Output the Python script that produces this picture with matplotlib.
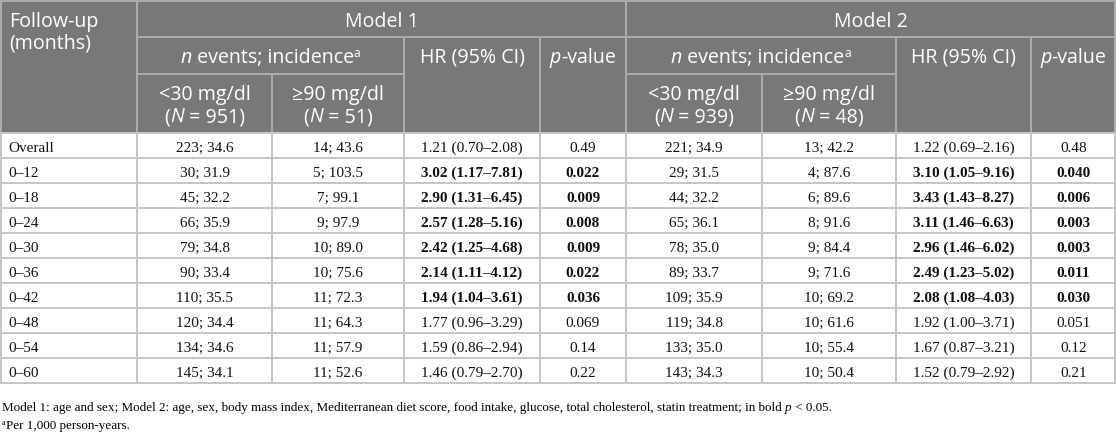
import matplotlib

matplotlib.use("Agg")
import matplotlib.pyplot as plt
from matplotlib.patches import Rectangle

# ---- data -----------------------------------------------------------------
follow_up = ["Overall", "0–12", "0–18", "0–24", "0–30", "0–36", "0–42",
             "0–48", "0–54", "0–60"]

m1_low_n = [223, 30, 45, 66, 79, 90, 110, 120, 134, 145]
m1_low_inc = [34.6, 31.9, 32.2, 35.9, 34.8, 33.4, 35.5, 34.4, 34.6, 34.1]
m1_high_n = [14, 5, 7, 9, 10, 10, 11, 11, 11, 11]
m1_high_inc = [43.6, 103.5, 99.1, 97.9, 89.0, 75.6, 72.3, 64.3, 57.9, 52.6]
m1_hr = [1.21, 3.02, 2.90, 2.57, 2.42, 2.14, 1.94, 1.77, 1.59, 1.46]
m1_lo = [0.70, 1.17, 1.31, 1.28, 1.25, 1.11, 1.04, 0.96, 0.86, 0.79]
m1_hi = [2.08, 7.81, 6.45, 5.16, 4.68, 4.12, 3.61, 3.29, 2.94, 2.70]
m1_p = ["0.49", "0.022", "0.009", "0.008", "0.009", "0.022", "0.036",
        "0.069", "0.14", "0.22"]

m2_low_n = [221, 29, 44, 65, 78, 89, 109, 119, 133, 143]
m2_low_inc = [34.9, 31.5, 32.2, 36.1, 35.0, 33.7, 35.9, 34.8, 35.0, 34.3]
m2_high_n = [13, 4, 6, 8, 9, 9, 10, 10, 10, 10]
m2_high_inc = [42.2, 87.6, 89.6, 91.6, 84.4, 71.6, 69.2, 61.6, 55.4, 50.4]
m2_hr = [1.22, 3.10, 3.43, 3.11, 2.96, 2.49, 2.08, 1.92, 1.67, 1.52]
m2_lo = [0.69, 1.05, 1.43, 1.46, 1.46, 1.23, 1.08, 1.00, 0.87, 0.79]
m2_hi = [2.16, 9.16, 8.27, 6.63, 6.02, 5.02, 4.03, 3.71, 3.21, 2.92]
m2_p = ["0.48", "0.040", "0.006", "0.003", "0.003", "0.011", "0.030",
        "0.051", "0.12", "0.21"]

group_labels = ["<30 mg/dl", "≥90 mg/dl"]
m1_group_n = ["951", "51"]
m2_group_n = ["939", "48"]

footnote1 = ("Model 1: age and sex; Model 2: age, sex, body mass index, "
             "Mediterranean diet score, food intake, glucose, total cholesterol, "
             "statin treatment; in bold ")
footnote2 = "Per 1,000 person-years."

# ---- layout (pixels) -------------------------------------------------------
W, H = 1116, 433
COLS = [0, 137, 272, 404, 540, 626, 762, 896, 1031, 1116]
HDR = [1, 37, 74, 133]
ROW_H = 25
HEAD_BG = "#787878"
HEAD_LINE = "#ababab"
BODY_LINE = "#c6c6c6"
SANS = "Open Sans"
SERIF = "Liberation Serif"

fig = plt.figure(figsize=(W / 100, H / 100), dpi=100)
ax = fig.add_axes([0, 0, 1, 1])
ax.set_xlim(0, W)
ax.set_ylim(H, 0)
ax.set_axis_off()
renderer = fig.canvas.get_renderer()


def text_width(s, **kw):
    # ink width of s including inner spaces (pad with x on both sides)
    a = ax.text(0, 0, "x" + s + "x", **kw)
    b = ax.text(0, 0, "xx", **kw)
    w = a.get_window_extent(renderer).width - b.get_window_extent(renderer).width
    a.remove()
    b.remove()
    return w


def fit_size(s, family, px):
    # font size at which s is px pixels wide
    return 10.0 * px / text_width(s, family=family, fontsize=10.0)


HS = fit_size("HR (95% CI)", SANS, 105)       # header font size
BS = fit_size("1.21 (0.70–2.08)", SERIF, 101)  # body font size
FS = fit_size(footnote1 + "p < 0.05.", SERIF, 828)  # footnote size


def runs(x, y, parts, ha="center", color="black", family=SANS, size=None):
    """draw one baseline made of differently styled pieces"""
    size = size or HS
    widths = []
    for s, kw in parts:
        k = dict(family=family, fontsize=size)
        k.update(kw)
        k.pop("dy", None)
        widths.append(text_width(s, **k))
    cx = x - sum(widths) / 2 if ha == "center" else x
    for (s, kw), w in zip(parts, widths):
        k = dict(family=family, fontsize=size)
        k.update(kw)
        dy = k.pop("dy", 0)
        ax.text(cx, y + dy, s, ha="left", va="baseline", color=color, **k)
        cx += w


lw_px = 0.72 * 2


def hline(y, x0, x1, c):
    ax.plot([x0, x1], [y, y], color=c, lw=lw_px, solid_capstyle="butt")


def vline(x, y0, y1, c):
    ax.plot([x, x], [y0, y1], color=c, lw=lw_px, solid_capstyle="butt")


# header background + grid
ax.add_patch(Rectangle((0, HDR[0]), W, HDR[3] - HDR[0], color=HEAD_BG, lw=0))
hline(HDR[0], 0, W, HEAD_LINE)
hline(HDR[1], COLS[1], W, HEAD_LINE)
for m in (0, 4):
    hline(HDR[2], COLS[1 + m], COLS[3 + m], HEAD_LINE)
for x in (1, COLS[1], COLS[5], W - 1):
    vline(x, HDR[0], HDR[3], HEAD_LINE)
for m in (0, 4):
    vline(COLS[2 + m], HDR[2], HDR[3], HEAD_LINE)
    vline(COLS[3 + m], HDR[1], HDR[3], HEAD_LINE)
    vline(COLS[4 + m], HDR[1], HDR[3], HEAD_LINE)

# header text
WH = "white"
hk = dict(family=SANS, fontsize=HS, color=WH, va="baseline")
ax.text(9, 27, "Follow-up", **hk)
ax.text(9, 48, "(months)", **hk)
for m, name, gn in ((0, "Model 1", m1_group_n), (4, "Model 2", m2_group_n)):
    ax.text((COLS[1 + m] + COLS[5 + m]) / 2, 27, name, ha="center", **hk)
    runs((COLS[1 + m] + COLS[3 + m]) / 2, 63,
         [("n", dict(style="italic")), (" events; incidence", {}),
          ("a", dict(fontsize=HS * 0.62, dy=-6))], color=WH)
    ax.text((COLS[3 + m] + COLS[4 + m]) / 2, 63, "HR (95% CI)", ha="center", **hk)
    runs((COLS[4 + m] + COLS[5 + m]) / 2, 63,
         [("p", dict(style="italic")), ("-value", {})], color=WH)
    for j, lab in enumerate(group_labels):
        cx = (COLS[1 + m + j] + COLS[2 + m + j]) / 2
        ax.text(cx, 100, lab, ha="center", **hk)
        runs(cx, 122, [("(", {}), ("N", dict(style="italic")),
                       (" = " + gn[j] + ")", {})], color=WH)

# body grid
body_top = HDR[3]
n_rows = len(follow_up)
for i in range(n_rows + 1):
    hline(body_top + i * ROW_H, 0, W, BODY_LINE)
for x in COLS[1:-1] + [1, W - 1]:
    vline(x, body_top, body_top + n_rows * ROW_H, BODY_LINE)

# body text, bold where p < 0.05
models = [
    (m1_low_n, m1_low_inc, m1_high_n, m1_high_inc, m1_hr, m1_lo, m1_hi, m1_p),
    (m2_low_n, m2_low_inc, m2_high_n, m2_high_inc, m2_hr, m2_lo, m2_hi, m2_p),
]
bk = dict(family=SERIF, fontsize=BS, va="baseline", color="#111111")
for i, lab in enumerate(follow_up):
    yb = body_top + i * ROW_H + 19
    ax.text(8, yb, lab, **bk)
    for m, (ln, li, hn, hinc, hr, lo, hi, p) in enumerate(models):
        bold = float(p[i]) < 0.05
        cells = [
            ("%d; %.1f" % (ln[i], li[i]), False),
            ("%d; %.1f" % (hn[i], hinc[i]), False),
            ("%.2f (%.2f–%.2f)" % (hr[i], lo[i], hi[i]), bold),
            (p[i], bold),
        ]
        for j, (s, b) in enumerate(cells):
            c0 = COLS[1 + 4 * m + j]
            c1 = COLS[2 + 4 * m + j]
            ax.text((c0 + c1) / 2, yb, s, ha="center",
                    weight="bold" if b else "normal", **bk)

# footnotes
runs(2, 411, [(footnote1, {}), ("p", dict(style="italic")), (" < 0.05.", {})],
     ha="left", family=SERIF, size=FS)
runs(2, 429, [("a", dict(fontsize=FS * 0.62, dy=-4)), (footnote2, {})],
     ha="left", family=SERIF, size=FS)

fig.savefig("out.png", dpi=100, facecolor="white")
